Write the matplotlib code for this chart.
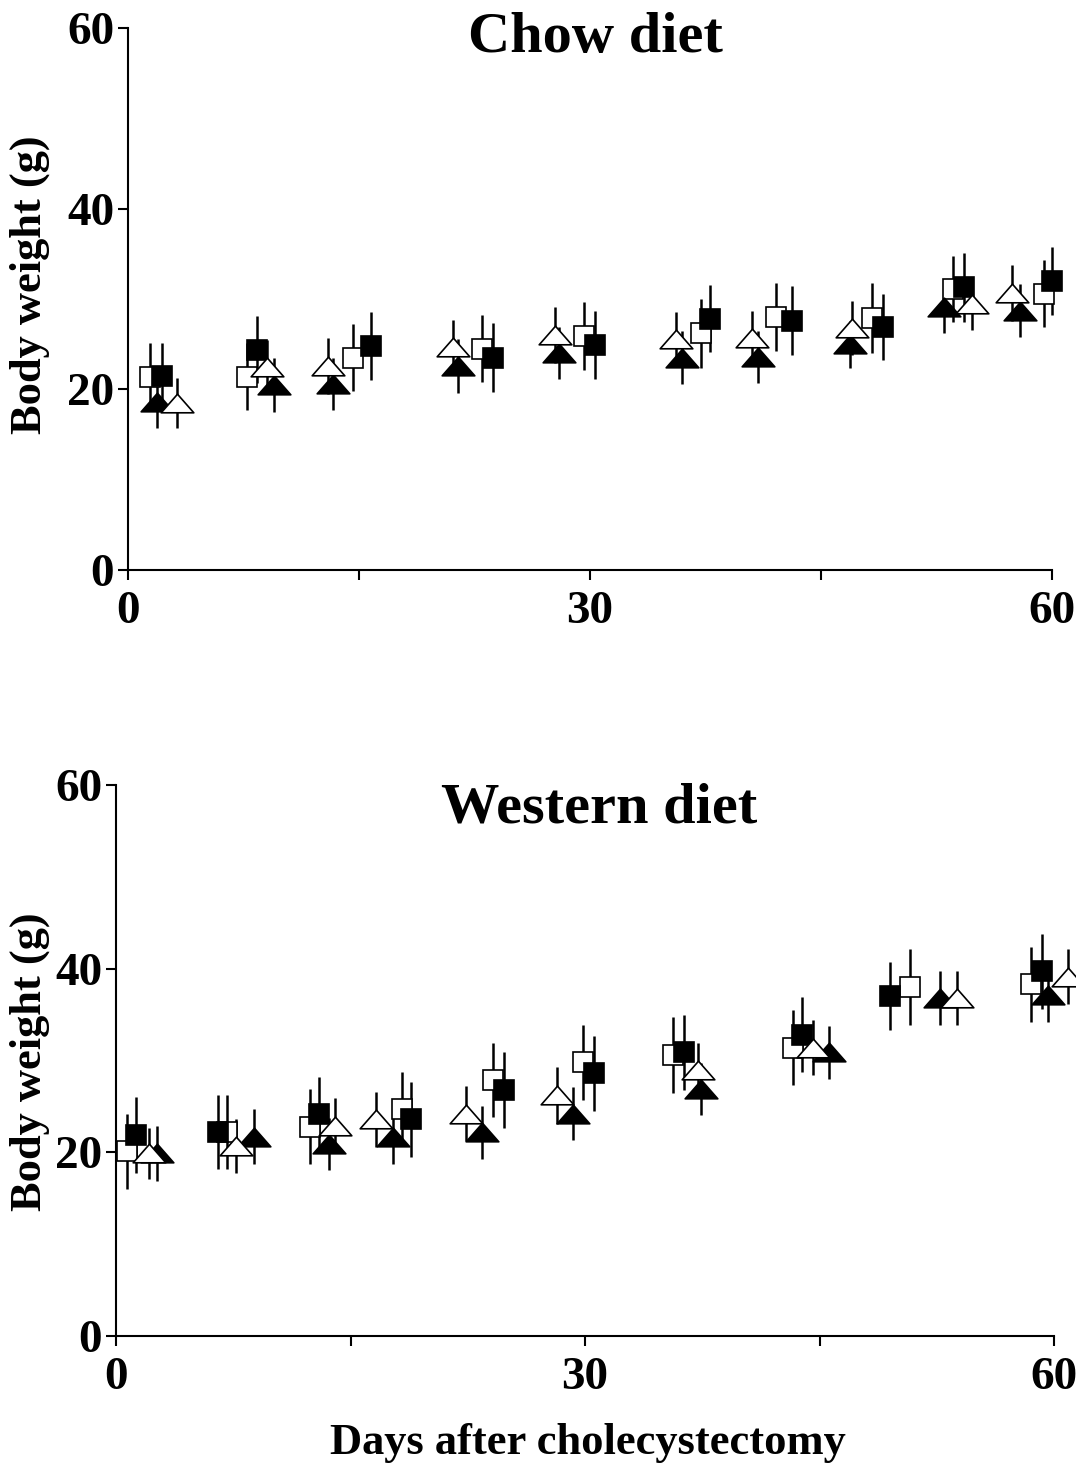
import matplotlib
matplotlib.use("Agg")
import matplotlib.pyplot as plt
from matplotlib.path import Path

# ---- data ----
# Chow diet
chow_os_x = [1.4, 7.7, 14.6, 23.0, 29.6, 37.2, 42.1, 48.3, 53.6, 59.5]
chow_os_y = [21.4, 21.4, 23.5, 24.5, 25.9, 26.2, 28.0, 27.9, 31.1, 30.6]
chow_os_e = [3.7, 3.7, 3.7, 3.7, 3.8, 3.8, 3.8, 3.9, 3.7, 3.7]

chow_fs_x = [2.2, 8.4, 15.8, 23.7, 30.3, 37.8, 43.1, 49.0, 54.3, 60.0]
chow_fs_y = [21.5, 24.4, 24.8, 23.5, 24.9, 27.8, 27.6, 26.9, 31.3, 32.0]
chow_fs_e = [3.6, 3.7, 3.8, 3.8, 3.8, 3.7, 3.8, 3.7, 3.8, 3.8]

chow_ft_x = [1.9, 9.5, 13.3, 21.4, 28.0, 36.0, 40.9, 46.9, 53.0, 57.9]
chow_ft_y = [18.6, 20.5, 20.6, 22.6, 24.0, 23.5, 23.6, 25.0, 29.1, 28.7]
chow_ft_e = [2.9, 3.0, 2.9, 3.0, 2.9, 2.9, 2.9, 2.6, 2.9, 2.9]

chow_ot_x = [3.2, 9.0, 13.0, 21.1, 27.7, 35.6, 40.5, 47.0, 54.8, 57.4]
chow_ot_y = [18.5, 22.5, 22.6, 24.7, 26.0, 25.6, 25.7, 26.8, 29.4, 30.7]
chow_ot_e = [2.8, 3.0, 3.1, 3.0, 3.1, 3.0, 3.0, 3.0, 2.8, 3.1]

# Western diet
west_os_x = [0.7, 7.1, 12.4, 18.3, 24.1, 29.9, 35.6, 43.3, 50.8, 58.5]
west_os_y = [20.1, 22.2, 22.8, 24.7, 27.9, 29.8, 30.6, 31.4, 38.0, 38.3]
west_os_e = [4.1, 4.0, 4.1, 4.0, 4.0, 4.1, 4.1, 4.1, 4.1, 4.1]

west_fs_x = [1.3, 6.5, 13.0, 18.9, 24.8, 30.6, 36.3, 43.9, 49.5, 59.2]
west_fs_y = [21.9, 22.2, 24.2, 23.6, 26.8, 28.6, 30.9, 32.8, 37.0, 39.7]
west_fs_e = [4.1, 4.0, 4.0, 4.1, 4.1, 4.1, 4.1, 4.1, 3.7, 4.1]

west_ft_x = [2.6, 8.8, 13.6, 17.7, 23.4, 29.2, 37.4, 45.6, 52.7, 59.6]
west_ft_y = [19.9, 21.7, 20.9, 21.7, 22.2, 24.2, 26.9, 30.9, 36.8, 37.1]
west_ft_e = [3.0, 3.0, 2.8, 3.0, 2.9, 2.9, 2.8, 2.9, 2.9, 2.9]

west_ot_x = [2.1, 7.7, 14.0, 16.6, 22.4, 28.2, 37.2, 44.6, 53.8, 60.9]
west_ot_y = [19.9, 20.7, 22.9, 23.6, 24.2, 26.2, 29.0, 31.4, 36.8, 39.1]
west_ot_e = [2.8, 2.9, 3.0, 3.0, 3.0, 3.1, 2.9, 3.0, 2.9, 3.0]

x_major = [0, 30, 60]
x_minor = [15, 45]
y_ticks = [0, 20, 40, 60]

FONT = "Liberation Serif"

# wide flat triangle used in the original
tri = Path([(-1, -0.57), (1, -0.57), (0, 0.57), (-1, -0.57)],
           [Path.MOVETO, Path.LINETO, Path.LINETO, Path.CLOSEPOLY])


def draw_series(ax, x, y, e, marker, face, ms):
    ax.errorbar(x, y, yerr=e, fmt="none", ecolor="black", elinewidth=1.8,
                capsize=0, clip_on=False, zorder=2)
    ax.plot(x, y, linestyle="none", marker=marker, markersize=ms,
            markerfacecolor=face, markeredgecolor="black",
            markeredgewidth=1.2, clip_on=False, zorder=3)


def style_axes(ax):
    ax.set_xlim(0, 60)
    ax.set_ylim(0, 60)
    ax.spines["top"].set_visible(False)
    ax.spines["right"].set_visible(False)
    for s in ("left", "bottom"):
        ax.spines[s].set_linewidth(1.5)
    ax.set_xticks(x_major)
    ax.set_xticks(x_minor, minor=True)
    ax.set_yticks(y_ticks)
    ax.tick_params(axis="both", which="both", direction="out", length=7,
                   width=1.5, labelsize=34)
    ax.tick_params(axis="x", pad=8)
    ax.tick_params(axis="y", pad=3)
    for lab in ax.get_xticklabels() + ax.get_yticklabels():
        lab.set_fontfamily(FONT)
        lab.set_fontweight("bold")


fig = plt.figure(figsize=(10.76, 14.64), dpi=100)
ax1 = fig.add_axes([0.1190, 0.6107, 0.8587, 0.3702])
ax2 = fig.add_axes([0.1078, 0.0874, 0.8718, 0.3764])

panels = [
    (ax1, [(chow_os_x, chow_os_y, chow_os_e, "s", "white", 14.5),
           (chow_fs_x, chow_fs_y, chow_fs_e, "s", "black", 14.5),
           (chow_ft_x, chow_ft_y, chow_ft_e, tri, "black", 23.5),
           (chow_ot_x, chow_ot_y, chow_ot_e, tri, "white", 23.5)]),
    (ax2, [(west_os_x, west_os_y, west_os_e, "s", "white", 14.5),
           (west_fs_x, west_fs_y, west_fs_e, "s", "black", 14.5),
           (west_ft_x, west_ft_y, west_ft_e, tri, "black", 23.5),
           (west_ot_x, west_ot_y, west_ot_e, tri, "white", 23.5)]),
]

for ax, series in panels:
    for x, y, e, m, f, ms in series:
        draw_series(ax, x, y, e, m, f, ms)
    style_axes(ax)

txt = dict(family=FONT, fontweight="bold", color="black")
fig.text(0.553, 0.974, "Chow diet", fontsize=42, ha="center", va="center", **txt)
fig.text(0.5567, 0.4475, "Western diet", fontsize=42, ha="center", va="center", **txt)
fig.text(0.028, 0.8053, "Body weight (g)", fontsize=32, rotation=90,
         ha="center", va="center", **txt)
fig.text(0.028, 0.2745, "Body weight (g)", fontsize=32, rotation=90,
         ha="center", va="center", **txt)
fig.text(0.5465, 0.0068, "Days after cholecystectomy", fontsize=32,
         ha="center", va="baseline", **txt)

fig.savefig("out.png", dpi=100)
